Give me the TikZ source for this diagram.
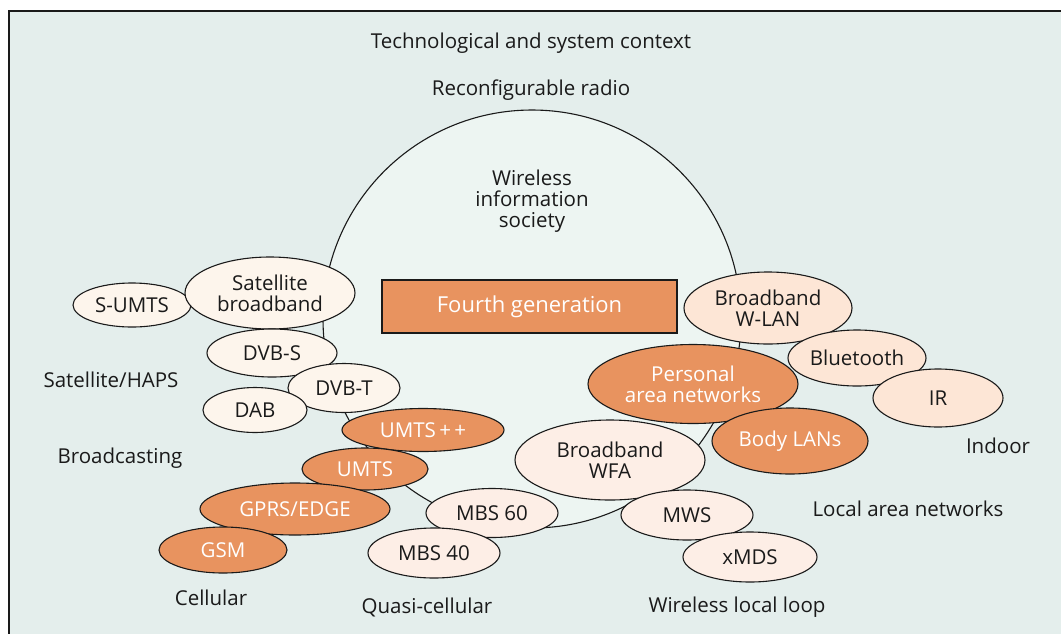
\documentclass[tikz,border=0pt]{standalone}
\usepackage{fontspec}
\setmainfont{Open Sans}
\usetikzlibrary{shapes.geometric}
\definecolor{bgc}{HTML}{E4EEEC}
\definecolor{circc}{HTML}{EDF5F2}
\definecolor{creamc}{HTML}{FDF5EC}
\definecolor{peachc}{HTML}{FDE6D6}
\definecolor{lightc}{HTML}{FDEEE6}
\definecolor{orangec}{HTML}{E8935F}
\definecolor{inkc}{HTML}{1A1A1A}
\tikzset{
  ell/.style={ellipse, draw=inkc, line width=1.1pt, inner sep=0pt, align=center, text=inkc,
    font=\fontsize{20.5}{21}\selectfont},
  cream/.style={ell, fill=creamc},
  peach/.style={ell, fill=peachc},
  light/.style={ell, fill=lightc},
  hot/.style={ell, fill=orangec, text=white},
  lbl/.style={text=inkc, inner sep=0pt, align=center, font=\fontsize{20.5}{21}\selectfont},
}
\begin{document}
\begin{tikzpicture}[x=1pt,y=-1pt]
\useasboundingbox (0,0) rectangle (1061,633);
\fill[white] (0,0) rectangle (1061,633);
\fill[bgc] (8.5,11) rectangle (1070,640);
\draw[inkc, line width=2pt] (8.5,640) -- (8.5,11) -- (1070,11);

% big circle
\node[circle, draw=inkc, line width=1.1pt, fill=circc, minimum size=418pt, inner sep=0pt] (wis) at (532,319) {};

\node[lbl] (tsc) at (531,43) {Technological and system context};
\node[lbl] (rr) at (531,90) {Reconfigurable radio};
\node[lbl] (wist) at (532,201) {Wireless\\information\\society};

\node[lbl] (sh) at (111,380) {Satellite/HAPS};
\node[lbl] (bc) at (120,458) {Broadcasting};
\node[lbl] (cel) at (211,598) {Cellular};
\node[lbl] (qc) at (427,607) {Quasi-cellular};
\node[lbl] (wll) at (737,607) {Wireless local loop};
\node[lbl] (lan) at (908,509) {Local area networks};
\node[lbl] (ind) at (998,446) {Indoor};

% fourth generation box
\node[draw=inkc, line width=1.1pt, fill=orangec, text=white, minimum width=295pt, minimum height=53pt, inner sep=0pt,
  font=\fontsize{22}{24}\selectfont] (fg) at (529.5,306.5) {Fourth generation};

% left group
\node[cream, minimum width=118pt, minimum height=44pt] (sumts) at (132,305) {S-UMTS};
\node[cream, minimum width=170pt, minimum height=72pt] (satb) at (270,293) {Satellite\\broadband};
\node[cream, minimum width=130pt, minimum height=48pt] (dvbs) at (272,353) {DVB-S};
\node[cream, minimum width=112pt, minimum height=49pt] (dvbt) at (344,388) {DVB-T};
\node[cream, minimum width=104pt, minimum height=45pt] (dab) at (255,410) {DAB};

% cellular
\node[hot, minimum width=162pt, minimum height=43pt] (umtspp) at (423,430) {UMTS\,+\,+};
\node[hot, minimum width=126pt, minimum height=42pt] (umts) at (365,469) {UMTS};
\node[hot, minimum width=190pt, minimum height=52pt] (gprs) at (295,509) {GPRS/EDGE};
\node[hot, minimum width=128pt, minimum height=46pt] (gsm) at (223,550) {GSM};

% quasi-cellular
\node[light, minimum width=132pt, minimum height=49pt] (mbs60) at (492,513) {MBS 60};
\node[light, minimum width=132pt, minimum height=50pt] (mbs40) at (434,553) {MBS 40};

% wireless local loop
\node[light, minimum width=190pt, minimum height=80pt] (wfa) at (610,460) {Broadband\\WFA};
\node[light, minimum width=132pt, minimum height=50pt] (mws) at (687,515) {MWS};
\node[light, minimum width=134pt, minimum height=50pt] (xmds) at (750,557) {xMDS};

% LAN / indoor
\node[peach, minimum width=168pt, minimum height=72pt] (wlan) at (768,308) {Broadband\\W-LAN};
\node[peach, minimum width=138pt, minimum height=56pt] (bt) at (857,358) {Bluetooth};
\node[peach, minimum width=130pt, minimum height=58pt] (ir) at (938,398) {IR};
\node[hot, minimum width=210pt, minimum height=79pt] (pan) at (693,384) {Personal\\area networks};
\node[hot, minimum width=156pt, minimum height=66pt] (body) at (790,441) {Body LANs};
\end{tikzpicture}
\end{document}
